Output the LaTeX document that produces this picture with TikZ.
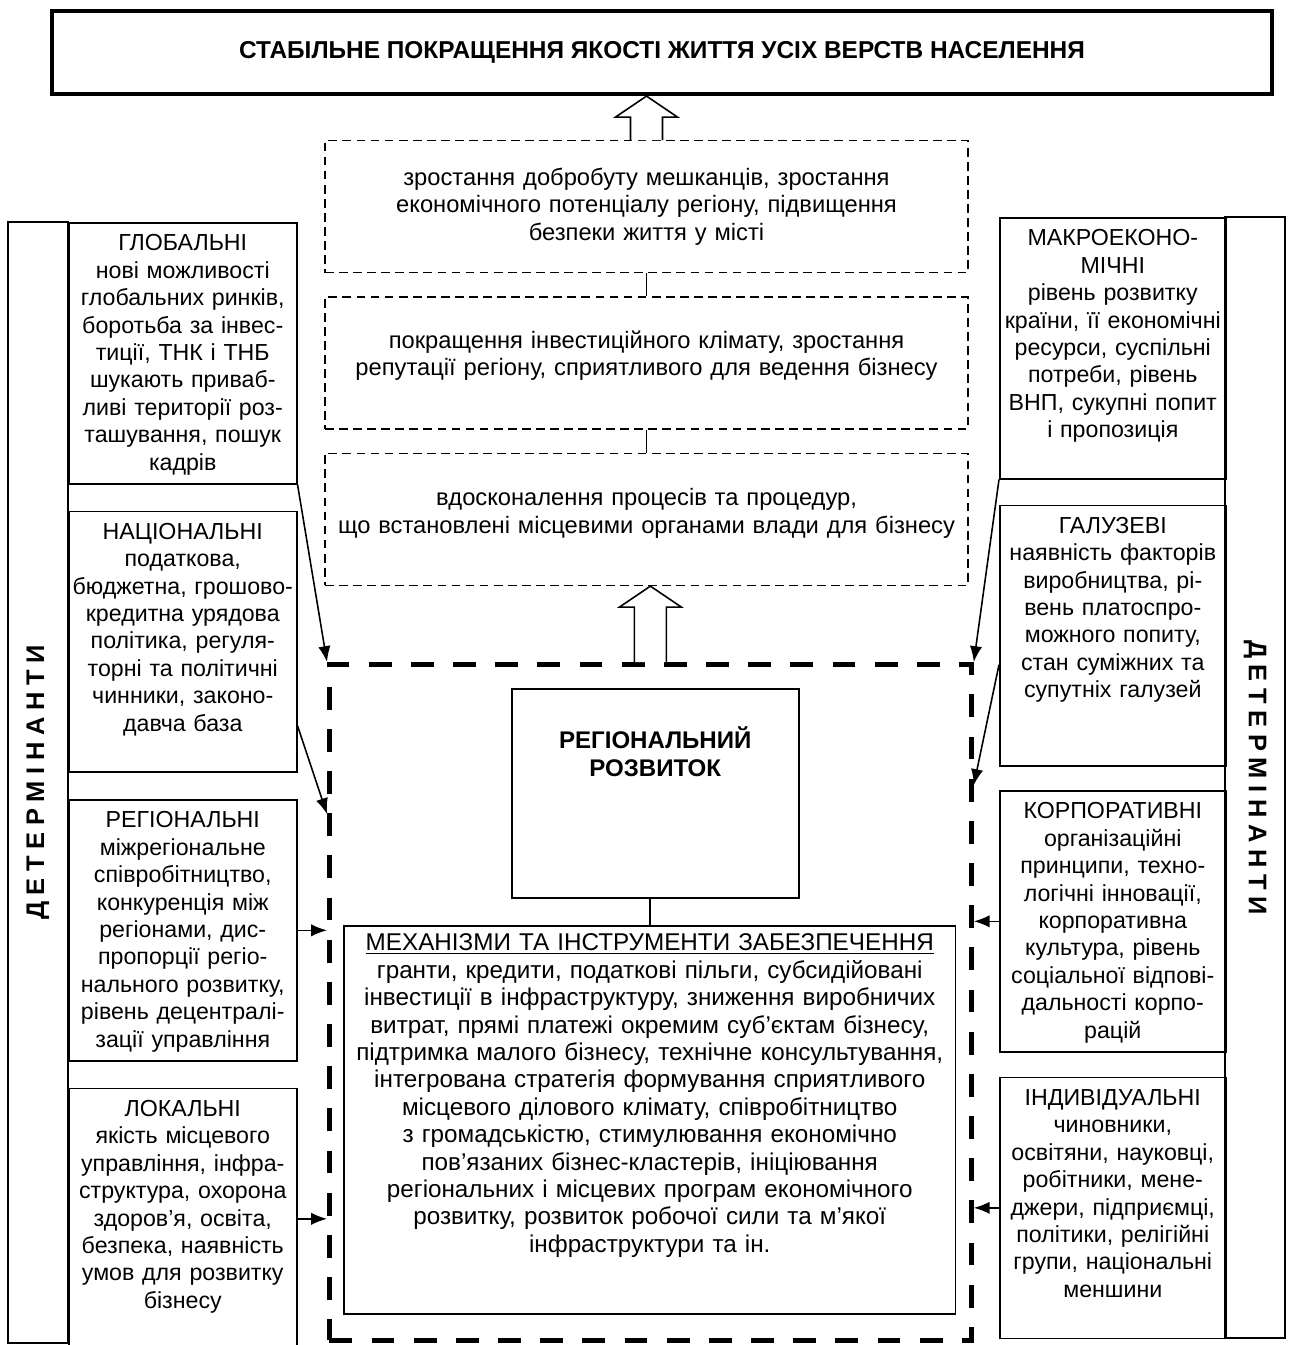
\documentclass[tikz,border=0pt]{standalone}
\usepackage{fontspec}
\setmainfont{Liberation Sans}
\newfontfamily\spacedfont[LetterSpace=26]{Liberation Sans}
\usepackage{tikz}
\usetikzlibrary{positioning,calc,arrows.meta}

\begin{document}
\begin{tikzpicture}[x=0.02cm, y=-0.02cm, >={Latex[length=9pt,width=7pt]}, line width=0.9pt,
    every node/.style={font=\fontsize{13.8}{15.6}\selectfont},
    sidebox/.style={draw, anchor=north west, minimum width=4.56cm, text width=4.5cm,
        inner xsep=0.03cm, inner ysep=0.15cm, align=center, text height=0.41cm, text depth=4.51cm,
        font=\fontsize{13.2}{15.6}\selectfont},
    colbox/.style={draw, minimum width=22.42cm, minimum height=1.2cm, inner sep=0pt,
        font=\fontsize{14.5}{16}\spacedfont\bfseries},
    stepbox/.style={draw, dash pattern=on 5pt off 3pt, line width=0.8pt, minimum width=12.86cm,
        minimum height=2.64cm, text width=12.8cm, inner xsep=0.03cm, align=center,
        font=\fontsize{13.5}{15.6}\selectfont},
    fatarrow/.style={draw, fill=white, line width=0.9pt, line join=miter}]
    \useasboundingbox (0,0) rectangle (1289,1345);

    % goal
    \node[draw, line width=2.4pt, minimum width=24.4cm, minimum height=1.66cm,
        font=\fontsize{13.9}{16}\selectfont\bfseries] (goal) at (662,52.5)
        {СТАБІЛЬНЕ ПОКРАЩЕННЯ ЯКОСТІ ЖИТТЯ УСІХ ВЕРСТВ НАСЕЛЕННЯ};

    % results
    \node[stepbox, anchor=north] (step1) at (646.5,140)
        {зростання добробуту мешканців, зростання\\
         економічного потенціалу регіону, підвищення\\
         безпеки життя у місті};
    \node[stepbox, below=0.46cm of step1, text height=0.35cm, text depth=0.93cm] (step2)
        {покращення інвестиційного клімату, зростання\\
         репутації регіону, сприятливого для ведення бізнесу};
    \node[stepbox, below=0.46cm of step2, text height=0.35cm, text depth=0.9cm] (step3)
        {вдосконалення процесів та процедур,\\
         що встановлені місцевими органами влади для бізнесу};
    \draw (step1) -- (step2);
    \draw (step2) -- (step3);

    % regional development
    \node[draw, anchor=north west, line width=2.8pt, dash pattern=on 13pt off 11pt,
        minimum width=12.84cm, minimum height=13.52cm] (devzone) at (327,662) {};
    \node[draw, anchor=north west, minimum width=5.74cm, text width=5.4cm, align=center,
        inner xsep=0.17cm, inner ysep=0.15cm, text height=1.05cm, text depth=2.83cm,
        font=\fontsize{13.7}{15.6}\selectfont\bfseries] (region) at (511,688)
        {РЕГІОНАЛЬНИЙ\\ РОЗВИТОК};
    \node[draw, anchor=north west, minimum width=12.24cm, text width=12.04cm, align=center,
        inner xsep=0.1cm, inner ysep=0.15cm, text height=0.35cm, text depth=7.11cm] (mech) at (343,925)
        {\underline{МЕХАНІЗМИ ТА ІНСТРУМЕНТИ ЗАБЕЗПЕЧЕННЯ}\\
         гранти, кредити, податкові пільги, субсидійовані\\
         інвестиції в інфраструктуру, зниження виробничих\\
         витрат, прямі платежі окремим суб’єктам бізнесу,\\
         підтримка малого бізнесу, технічне консультування,\\
         інтегрована стратегія формування сприятливого\\
         місцевого ділового клімату, співробітництво\\
         з громадськістю, стимулювання економічно\\
         пов’язаних бізнес-кластерів, ініціювання\\
         регіональних і місцевих програм економічного\\
         розвитку, розвиток робочої сили та м’якої\\
         інфраструктури та ін.};
    \draw (region.south -| mech.north) -- (mech.north);

    % hollow arrows
    \coordinate (tip1) at (goal.south -| step1.north);
    \coordinate (tip2) at (step3.south -| devzone.north);
    \draw[fatarrow] ($(step1.north)+(-16,0)$) -- ($(tip1)+(-16,21)$) -- ($(tip1)+(-31,21)$) -- (tip1)
        -- ($(tip1)+(31,21)$) -- ($(tip1)+(16,21)$) -- ($(step1.north)+(16,0)$);
    \draw[fatarrow] ($(devzone.north)+(-16,0)$) -- ($(tip2)+(-16,21)$) -- ($(tip2)+(-31,21)$) -- (tip2)
        -- ($(tip2)+(31,21)$) -- ($(tip2)+(16,21)$) -- ($(devzone.north)+(16,0)$);

    % left determinants
    \node[colbox, rotate=90] (detl) at (38,782.5) {ДЕТЕРМІНАНТИ};
    \node[sidebox] (glob) at (68,222)
        {ГЛОБАЛЬНІ\\ нові можливості\\ глобальних ринків,\\ боротьба за інвес-\\ тиції, ТНК і ТНБ\\
         шукають приваб-\\ ливі території роз-\\ ташування, пошук\\ кадрів};
    \node[sidebox, below=0.52cm of glob] (nat)
        {НАЦІОНАЛЬНІ\\ податкова,\\ бюджетна, грошово-\\ кредитна урядова\\ політика, регуля-\\
         торні та політичні\\ чинники, законо-\\ давча база};
    \node[sidebox, below=0.52cm of nat] (reg)
        {РЕГІОНАЛЬНІ\\ міжрегіональне\\ співробітництво,\\ конкуренція між\\ регіонами, дис-\\
         пропорції регіо-\\ нального розвитку,\\ рівень децентралі-\\ зації управління};
    \node[sidebox, below=0.52cm of reg] (loc)
        {ЛОКАЛЬНІ\\ якість місцевого\\ управління, інфра-\\ структура, охорона\\ здоров’я, освіта,\\
         безпека, наявність\\ умов для розвитку\\ бізнесу};

    % right determinants
    \node[colbox, rotate=-90] (detr) at (1255,777.5) {ДЕТЕРМІНАНТИ};
    \node[sidebox, minimum width=4.52cm, text width=4.46cm] (macro) at (999,217)
        {МАКРОЕКОНО-\\ МІЧНІ\\ рівень розвитку\\ країни, її економічні\\ ресурси, суспільні\\
         потреби, рівень\\ ВНП, сукупні попит\\ і пропозиція};
    \node[sidebox, minimum width=4.52cm, text width=4.46cm, below=0.5cm of macro] (galuz)
        {ГАЛУЗЕВІ\\ наявність факторів\\ виробництва, рі-\\ вень платоспро-\\ можного попиту,\\
         стан суміжних та\\ супутніх галузей};
    \node[sidebox, minimum width=4.52cm, text width=4.46cm, below=0.46cm of galuz] (corp)
        {КОРПОРАТИВНІ\\ організаційні\\ принципи, техно-\\ логічні інновації,\\ корпоративна\\
         культура, рівень\\ соціальної відпові-\\ дальності корпо-\\ рацій};
    \node[sidebox, minimum width=4.52cm, text width=4.46cm, below=0.48cm of corp] (indiv)
        {ІНДИВІДУАЛЬНІ\\ чиновники,\\ освітяни, науковці,\\ робітники, мене-\\ джери, підприємці,\\
         політики, релігійні\\ групи, національні\\ меншини};

    % influences
    \draw[->] (glob.south east) -- (devzone.north west);
    \draw[->] ($(nat.north east)!0.82!(nat.south east)$) -- ($(devzone.north west)+(0,152)$);
    \draw[->] (reg.east) -- (reg.east -| devzone.west);
    \draw[->] (loc.east) -- (loc.east -| devzone.west);
    \draw[->] (macro.south west) -- (devzone.north east);
    \draw[->] ($(galuz.north west)!0.61!(galuz.south west)$) -- ($(devzone.north east)+(0,123)$);
    \draw[->] (corp.west) -- (corp.west -| devzone.east);
    \draw[->] (indiv.west) -- (indiv.west -| devzone.east);
\end{tikzpicture}
\end{document}
